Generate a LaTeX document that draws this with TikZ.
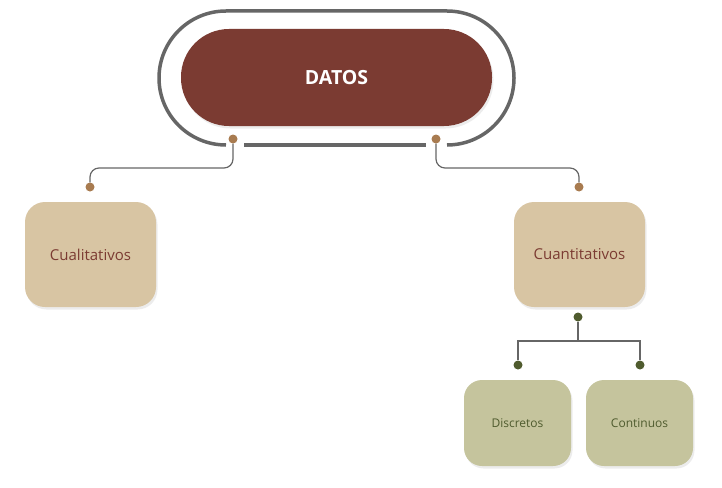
\documentclass[tikz,border=0pt]{standalone}
\usepackage{fontspec}
\setmainfont{Open Sans}
\usetikzlibrary{shadows}

\definecolor{granate}{HTML}{7B3B32}
\definecolor{anillo}{HTML}{666666}
\definecolor{cobre}{HTML}{A87B50}
\definecolor{arena}{HTML}{D8C5A3}
\definecolor{oliva}{HTML}{C5C49D}
\definecolor{musgo}{HTML}{4F5B2E}

\tikzset{
    sombra/.style={drop shadow={opacity=0.15, shadow xshift=1.5pt, shadow yshift=-2.5pt}},
    raiz/.style={fill=granate, text=white, rounded corners=48pt, minimum width=311pt,
        minimum height=97pt, font=\fontsize{19.5}{22}\selectfont\bfseries, sombra},
    rama/.style={fill=arena, text=granate, rounded corners=20pt, minimum width=131pt,
        minimum height=105pt, font=\fontsize{15}{17}\selectfont, sombra},
    hoja/.style={fill=oliva, text=musgo, rounded corners=18pt, minimum width=107pt,
        minimum height=86pt, font=\fontsize{12}{14}\selectfont, sombra},
    punto/.style={circle, inner sep=0pt, minimum size=9pt},
    enlace/.style={draw=anillo, line width=1.2pt}
}

\begin{document}
\begin{tikzpicture}[x=1pt, y=-1pt]
    \useasboundingbox (0,0) rectangle (722,487);

    % anillo alrededor de la raiz
    \draw[anillo, line width=3.5pt, rounded corners=67pt]
        (226,145) -- (159,145) -- (159,11) -- (514,11) -- (514,145) -- (447,145);
    \draw[anillo, line width=3.5pt] (244,145) -- (426,145);

    % nodos
    \node[raiz] (datos) at (336.5,77.5) {DATOS};
    \node[rama] (cuali) at (90.5,254.5) {Cualitativos};
    \node[rama] (cuanti) at (579.5,254.5) {Cuantitativos};
    \node[hoja] (discretos) at (517.5,423) {Discretos};
    \node[hoja] (continuos) at (639.5,423) {Continuos};

    % puntos de enlace
    \node[punto, fill=cobre] (pdl) at (233,139) {};
    \node[punto, fill=cobre] (pdr) at (436,139) {};
    \node[punto, fill=cobre] (pcl) at (90,187) {};
    \node[punto, fill=cobre] (pcr) at (579,187) {};
    \node[punto, fill=musgo] (pq) at (578,317) {};
    \node[punto, fill=musgo] (pd) at (518,365) {};
    \node[punto, fill=musgo] (pc) at (640,365) {};

    \coordinate (nivel1) at (0,168);
    \coordinate (nivel2) at (0,341);

    % conectores
    \draw[enlace, rounded corners=9pt] (pdl) -- (pdl |- nivel1) -| (pcl);
    \draw[enlace, rounded corners=9pt] (pdr) -- (pdr |- nivel1) -| (pcr);
    \draw[enlace] (pq) -- (pq |- nivel2) -| (pd);
    \draw[enlace] (pq |- nivel2) -| (pc);
\end{tikzpicture}
\end{document}
